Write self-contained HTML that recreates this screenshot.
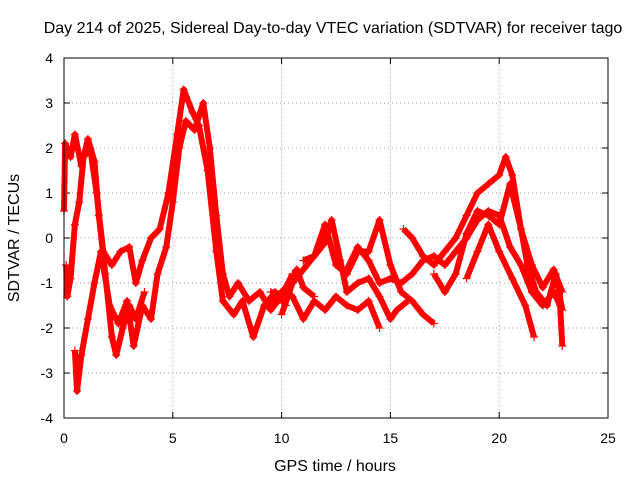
<!DOCTYPE html>
<html><head><meta charset="utf-8"><style>
body{margin:0;background:#fff}
svg{display:block;font-family:"Liberation Sans",sans-serif}
</style></head><body>
<svg id="chart" width="640" height="480">
<text x="333" y="33" font-size="16" text-anchor="middle">Day 214 of 2025, Sidereal Day-to-day VTEC variation (SDTVAR) for receiver tago</text>
<text x="335" y="471" font-size="16" text-anchor="middle">GPS time / hours</text>
<text transform="translate(19,238) rotate(-90)" font-size="16" text-anchor="middle">SDTVAR / TECUs</text>
<g id="grid"></g>
<g id="ticks"></g>
<g id="series"></g>
<rect x="64" y="58" width="544" height="360" fill="none" stroke="#000"/>
</svg>
<script>
const xTicks=[0,5,10,15,20,25];
const yTicks=[-4,-3,-2,-1,0,1,2,3,4];
const traceA=[[0,0.6],[0.05,2.1],[0.3,1.8],[0.5,2.3],[0.8,1.6],[1.1,2.2],[1.4,1.7],[1.6,0.5],[1.9,-0.8],[2.2,-2.2],[2.4,-2.6],[2.7,-2.0],[3,-1.5],[3.3,-1.8],[3.7,-1.2]];
const traceB=[[0.1,-0.6],[0.15,-1.3],[0.3,-0.9],[0.5,0.3],[0.7,0.8],[0.9,1.8],[1.2,2.0],[1.5,1.0],[1.8,-0.3],[2.2,-0.6],[2.6,-0.3],[3,-0.2],[3.3,-1.0],[3.6,-0.5],[4,0],[4.4,0.2],[4.8,1.0],[5.2,2.3],[5.5,3.3],[5.9,2.8],[6.2,2.5],[6.6,1.5],[7,-0.3],[7.3,-1.4],[7.8,-1.7],[8.2,-1.4],[8.7,-2.2],[9.2,-1.5],[9.7,-1.2],[10.2,-1.5]];
const traceC=[[0.5,-2.5],[0.6,-3.4],[0.8,-2.6],[1.1,-1.8],[1.4,-1.0],[1.7,-0.3],[2.1,-1.5],[2.5,-1.9],[2.9,-1.4],[3.2,-2.4],[3.6,-1.5],[4.0,-1.8],[4.3,-0.8],[4.7,-0.2],[5.0,0.8],[5.3,2.0],[5.6,2.6],[6.0,2.4],[6.4,3.0],[6.7,2.0],[7.0,0.5],[7.3,-0.8],[7.6,-1.3],[8,-1.0],[8.5,-1.4],[9,-1.2],[9.5,-1.6],[10,-1.3],[10.5,-0.8]];
const traceD=[[10,-1.7],[10.5,-1.0],[11,-0.7],[11.5,-0.4],[12,-0.1],[12.3,0.4],[12.7,-0.5],[13,-1.2],[13.5,-1.0],[14,-0.9],[14.5,-1.3],[15,-1.8],[15.3,-1.6],[15.8,-1.4]];
const traceE=[[9.5,-1.2],[10.5,-1.3],[11,-1.8],[11.5,-1.4],[12,-1.6],[12.5,-1.3],[13,-1.5],[13.5,-1.6],[14,-1.4],[14.5,-2.0]];
const traceF=[[11,-0.5],[11.5,-0.4],[12,0.3],[12.5,-0.6],[13,-0.8],[13.5,-0.3],[14,-0.3],[14.5,0.4],[15,-0.6],[15.5,-1.2],[16,-1.4],[16.5,-1.7],[17,-1.9]];
const traceG=[[13,-0.7],[13.5,-0.2],[14,-0.5],[14.5,-1.0],[15,-0.9],[15.5,-1.0],[16,-0.8],[16.5,-0.5],[17,-0.4],[17.5,-0.6],[18,-0.3],[18.5,0.0],[19,0.4],[19.5,0.6],[20,0.5],[20.5,-0.2],[21,-0.6],[21.5,-1.2],[22,-1.5],[22.5,-1.2],[22.8,-1.5],[22.9,-2.4]];
const traceH=[[15.6,0.2],[16,0],[16.5,-0.4],[17,-0.6],[17.5,-0.3],[18,0],[18.5,0.5],[19,1.0],[19.5,1.2],[20,1.4],[20.3,1.8],[20.6,1.4],[21,0.2],[21.3,-0.6],[21.7,-1.2],[22.2,-1.5],[22.6,-0.8],[22.9,-1.6]];
const traceI=[[17,-0.8],[17.5,-1.2],[18,-0.8],[18.5,0.1],[19,0.6],[19.5,0.5],[20,0.3],[20.5,1.2],[21,0.2],[21.5,-0.6],[22,-1.1],[22.5,-0.7],[22.9,-1.2]];
const traceJ=[[18.5,-0.9],[19,-0.3],[19.5,0.3],[20,-0.3],[20.6,-0.9],[21.2,-1.5],[21.6,-2.2]];
const traceK=[[9.5,-1.5],[10,-1.2],[10.4,-1.0],[10.7,-0.7],[11,-1.1],[11.5,-1.3]];
const traces=[traceA,traceB,traceC,traceD,traceE,traceF,traceG,traceH,traceI,traceJ,traceK];

const NS="http://www.w3.org/2000/svg";
const X0=64,X1=608,Y0=418,Y1=58;
function sx(v){return X0+(v-0)/(25-0)*(X1-X0);}
function sy(v){return Y0-(v+4)/8*(Y0-Y1);}
const grid=document.getElementById('grid'),ticks=document.getElementById('ticks'),series=document.getElementById('series');
function mk(tag,attrs,parent){const e=document.createElementNS(NS,tag);for(const k in attrs)e.setAttribute(k,attrs[k]);parent.appendChild(e);return e;}
xTicks.forEach(t=>{
  const x=sx(t);
  if(t>0&&t<25){const g=mk('line',{x1:x,x2:x,y1:Y0,y2:Y1,stroke:'#a0a0a0','stroke-dasharray':'1,3'},grid);
  
  }
  mk('line',{x1:x,x2:x,y1:Y0,y2:Y0-6,stroke:'#000'},ticks);
  mk('line',{x1:x,x2:x,y1:Y1,y2:Y1+6,stroke:'#000'},ticks);
  const l=mk('text',{x:x,y:443,'font-size':14,'text-anchor':'middle'},ticks);l.textContent=t;
  
  
});
yTicks.forEach(t=>{
  const y=sy(t);
  if(t>-4&&t<4){const g=mk('line',{x1:X0,x2:X1,y1:y,y2:y,stroke:'#a0a0a0','stroke-dasharray':'1,3'},grid);
  
  }
  mk('line',{x1:X0,x2:X0+6,y1:y,y2:y,stroke:'#000'},ticks);
  mk('line',{x1:X1,x2:X1-6,y1:y,y2:y,stroke:'#000'},ticks);
  const l=mk('text',{x:53,y:y+5,'font-size':14,'text-anchor':'end'},ticks);l.textContent=t;
  
  
});
traces.forEach((tr,i)=>{
  const pl=mk('polyline',{points:tr.map(p=>sx(p[0])+','+sy(p[1])).join(' '),fill:'none',stroke:'#f00','stroke-width':6,'stroke-linejoin':'round'},series);
  
  
  tr.forEach(p=>{
    const x=sx(p[0]),y=sy(p[1]);
    const m=mk('path',{d:`M${x-4},${y}H${x+4}M${x},${y-4}V${y+4}`,stroke:'#f00','stroke-width':1.2},series);
    
    
  });
});
</script>
</body></html>
